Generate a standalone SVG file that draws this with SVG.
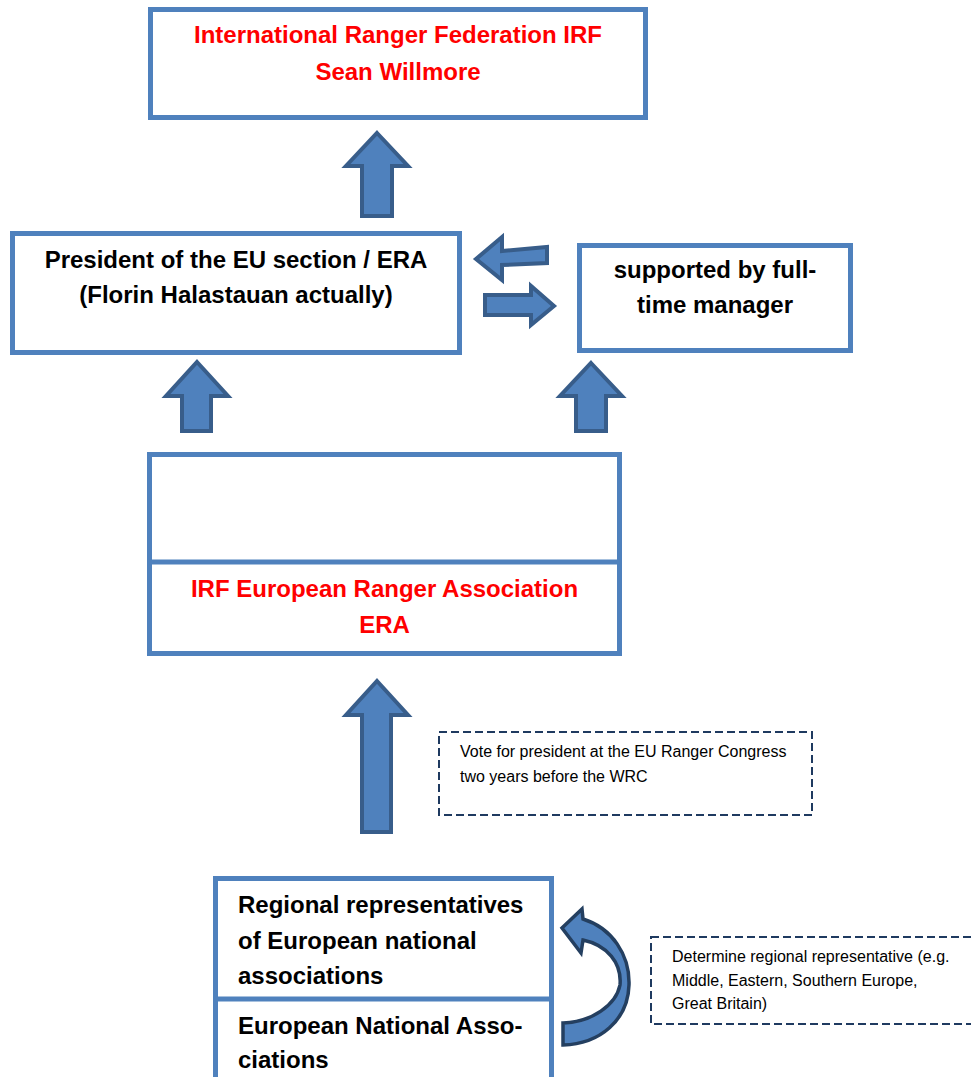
<svg xmlns="http://www.w3.org/2000/svg" width="971" height="1077" viewBox="0 0 971 1077">
<style>
.box{fill:#fff;stroke:#4F81BD;stroke-width:5}
.arr{fill:#4F81BD;stroke:#385D8A;stroke-width:4;stroke-linejoin:miter}
.curv{fill:#4F81BD;stroke:#243F60;stroke-width:3.5}
.note{fill:#fff;stroke:#1F3A60;stroke-width:2;stroke-dasharray:8,4}
.b{font-family:"Liberation Sans",Arial,sans-serif;font-weight:bold;font-size:24px;fill:#000}
.red{fill:#FF0000}
.s{font-family:"Liberation Sans",Arial,sans-serif;font-size:16px;fill:#000}
.c{text-anchor:middle}
</style>
<rect width="971" height="1077" fill="#fff"/>
<g id="connectors">
<path class="arr" d="M377,133 L408,166 L392,166 L392,216 L362,216 L362,166 L346,166 Z"/>
<path class="arr" d="M197,362 L228,396 L211,396 L211,431 L182,431 L182,396 L166,396 Z"/>
<path class="arr" d="M591,363 L622,396 L606,396 L606,431 L576,431 L576,396 L560,396 Z"/>
<path class="arr" d="M377,681 L408,715 L391,715 L391,832 L362,832 L362,715 L346,715 Z"/>
<path class="arr" d="M476,259 L502,237 L502,251 L547,247 L547,263 L502,265 L502,280 Z"/>
<path class="arr" d="M554,306 L531,286 L531,295 L485,295 L485,315 L531,315 L531,325 Z"/>
<path class="curv" d="M583,919 C612,928 630,955 629,985 C628,1020 600,1044 563,1045 L563,1023 C592,1022 616,1005 620,985 C622,963 607,945 583,940 L581,953 L562,928 L582,909 Z"/>
</g>
<g id="irf">
<rect class="box" x="150.5" y="9.5" width="495" height="108"/>
<text class="b red c" x="398" y="43">International Ranger Federation IRF</text>
<text class="b red c" x="398" y="80">Sean Willmore</text>
</g>
<g id="president">
<rect class="box" x="12.5" y="233.5" width="447" height="119"/>
<text class="b c" x="236" y="268">President of the EU section / ERA</text>
<text class="b c" x="236" y="303">(Florin Halastauan actually)</text>
</g>
<g id="manager">
<rect class="box" x="579.5" y="245.5" width="271" height="105"/>
<text class="b c" x="715" y="278">supported by full-</text>
<text class="b c" x="715" y="313">time manager</text>
</g>
<g id="era">
<rect class="box" x="149.5" y="454.5" width="470" height="199"/>
<line x1="149.5" y1="562" x2="619.5" y2="562" stroke="#4F81BD" stroke-width="5"/>
<text class="b red c" x="384.5" y="597">IRF European Ranger Association</text>
<text class="b red c" x="384.5" y="633">ERA</text>
</g>
<g id="vote">
<rect class="note" x="439" y="732" width="373" height="83"/>
<text class="s" x="460" y="757">Vote for president at the EU Ranger Congress</text>
<text class="s" x="460" y="782">two years before the WRC</text>
</g>
<g id="national">
<rect class="box" x="215.5" y="878.5" width="336" height="220"/>
<line x1="215.5" y1="999" x2="551.5" y2="999" stroke="#4F81BD" stroke-width="5"/>
<text class="b" x="238" y="913">Regional representatives</text>
<text class="b" x="238" y="949">of European national</text>
<text class="b" x="238" y="984">associations</text>
<text class="b" x="238" y="1034">European National Asso-</text>
<text class="b" x="238" y="1068">ciations</text>
</g>
<g id="determine">
<rect class="note" x="651" y="937" width="340" height="87"/>
<text class="s" x="672" y="962">Determine regional representative (e.g.</text>
<text class="s" x="672" y="986">Middle, Eastern, Southern Europe,</text>
<text class="s" x="672" y="1009">Great Britain)</text>
</g>
</svg>
